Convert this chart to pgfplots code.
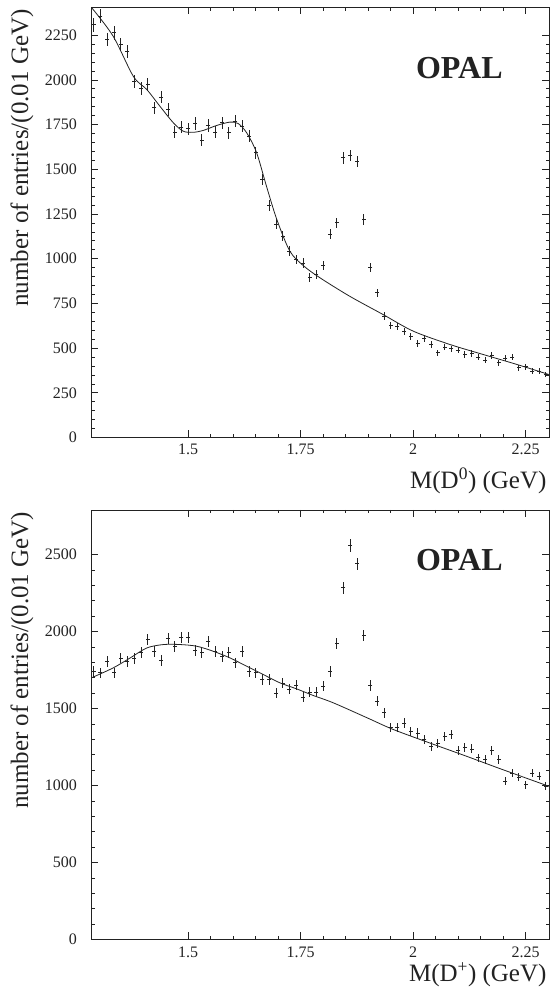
\documentclass[border=0pt]{standalone}
\usepackage{fontspec}
\setmainfont{Liberation Serif}
\usepackage{pgfplots}
\usepackage{pgfplotstable}
\pgfplotsset{compat=1.18}

\definecolor{ink}{HTML}{222222}

% D0 -> K- pi+ candidates, entries per 0.01 GeV (15 MeV bins)
\pgfplotstableread{
x y e
1.290 2309 39.2
1.305 2357 39.6
1.320 2226 38.5
1.335 2263 38.8
1.350 2198 38.3
1.365 2160 37.9
1.380 1993 36.5
1.395 1950 36.1
1.410 1974 36.3
1.425 1844 35.1
1.440 1904 35.6
1.455 1834 35.0
1.470 1709 33.8
1.485 1736 34.0
1.500 1726 33.9
1.515 1756 34.2
1.530 1663 33.3
1.545 1745 34.1
1.560 1707 33.7
1.575 1760 34.3
1.590 1704 33.7
1.605 1769 34.3
1.620 1742 34.1
1.635 1685 33.5
1.650 1593 32.6
1.665 1443 31.0
1.680 1298 29.4
1.695 1194 28.2
1.710 1125 27.4
1.725 1042 26.4
1.740 996 25.8
1.755 976 25.5
1.770 896 24.4
1.785 912 24.7
1.800 962 25.3
1.815 1136 27.5
1.830 1201 28.3
1.845 1564 32.3
1.860 1577 32.4
1.875 1545 32.1
1.890 1219 28.5
1.905 949 25.2
1.920 809 23.2
1.935 678 21.3
1.950 626 20.4
1.965 619 20.3
1.980 591 19.8
1.995 567 19.4
2.010 524 18.7
2.025 554 19.2
2.040 520 18.6
2.055 474 17.8
2.070 505 18.3
2.085 496 18.2
2.100 488 18.0
2.115 464 17.6
2.130 470 17.7
2.145 449 17.3
2.160 431 17.0
2.175 459 17.5
2.190 418 16.7
2.205 444 17.2
2.220 449 17.3
2.235 390 16.1
2.250 396 16.2
2.265 371 15.7
2.280 371 15.7
2.295 352 15.3
}\dzerodata

% fitted function, D0 sample
\pgfplotstableread{
x y
1.285 2405
1.333 2245
1.378 2020
1.408 1946
1.437 1853
1.467 1760
1.489 1713
1.511 1707
1.533 1717
1.563 1745
1.593 1764
1.611 1756
1.630 1704
1.652 1593
1.674 1405
1.697 1219
1.726 1042
1.756 961
1.793 893
1.859 790
1.933 688
2.000 595
2.082 520
2.156 464
2.230 409
2.302 352
}\dzerofit

% D+ -> K- pi+ pi+ candidates, entries per 0.01 GeV (15 MeV bins)
\pgfplotstableread{
x y e
1.290 1742 34.1
1.305 1732 34.0
1.320 1807 34.7
1.335 1732 34.0
1.350 1829 34.9
1.365 1807 34.7
1.380 1823 34.9
1.395 1862 35.2
1.410 1948 36.0
1.425 1872 35.3
1.440 1814 34.8
1.455 1953 36.1
1.470 1905 35.6
1.485 1963 36.2
1.500 1963 36.2
1.515 1879 35.4
1.530 1866 35.3
1.545 1937 35.9
1.560 1872 35.3
1.575 1840 35.0
1.590 1862 35.2
1.605 1797 34.6
1.620 1872 35.3
1.635 1742 34.1
1.650 1732 34.0
1.665 1688 33.5
1.680 1688 33.5
1.695 1600 32.7
1.710 1665 33.3
1.725 1627 32.9
1.740 1652 33.2
1.755 1575 32.4
1.770 1606 32.7
1.785 1606 32.7
1.800 1645 33.1
1.815 1742 34.1
1.830 1922 35.8
1.845 2284 39.0
1.860 2558 41.3
1.875 2441 40.3
1.890 1974 36.3
1.905 1650 33.2
1.920 1548 32.1
1.935 1472 31.3
1.950 1375 30.3
1.965 1375 30.3
1.980 1407 30.6
1.995 1353 30.0
2.010 1342 29.9
2.025 1299 29.4
2.040 1255 28.9
2.055 1271 29.1
2.070 1320 29.7
2.085 1331 29.8
2.100 1227 28.6
2.115 1245 28.8
2.130 1238 28.7
2.145 1180 28.0
2.160 1169 27.9
2.175 1229 28.6
2.190 1169 27.9
2.205 1028 26.2
2.220 1082 26.9
2.235 1054 26.5
2.250 1006 25.9
2.265 1082 26.9
2.280 1060 26.6
2.295 995 25.8
}\dplusdata

% fitted function, D+ sample
\pgfplotstableread{
x y
1.285 1700
1.333 1764
1.371 1829
1.408 1894
1.445 1916
1.482 1916
1.519 1905
1.556 1872
1.593 1829
1.630 1775
1.667 1721
1.704 1667
1.741 1628
1.778 1585
1.822 1538
1.897 1441
1.956 1364
2.045 1268
2.119 1190
2.193 1110
2.302 995
}\dplusfit

\pgfplotsset{
  opal/.style={
    scale only axis,
    width=457.5pt,
    xmin=1.285, xmax=2.302,
    xtick={1.5,1.75,2,2.25},
    xticklabels={1.5,1.75,2,2.25},
    minor x tick num=4,
    tick align=inside,
    major tick length=7pt,
    minor tick length=3.5pt,
    every tick/.style={ink, line width=0.7pt},
    axis line style={ink, line width=0.9pt},
    tick label style={font=\fontsize{16}{16}\selectfont, text=ink, inner sep=0pt},
    yticklabel style={xshift=-14.5pt},
    scaled y ticks=false,
    /pgf/number format/1000 sep={},
    /pgf/number format/assume math mode=true,
    ylabel={number of entries/(0.01 GeV)},
    ylabel style={font=\fontsize{25}{25}\selectfont, text=ink,
      at={(axis description cs:-0.152,0.65)}, anchor=center},
    xlabel style={font=\fontsize{25}{25}\selectfont, text=ink,
      at={(axis description cs:1,0)}, anchor=east, xshift=1pt},
    clip=false,
  },
  datapts/.style={ink, only marks, mark=-, mark size=2pt,
    mark options={line width=0.8pt},
    error bars/.cd, y dir=both, y explicit, error mark=none,
    error bar style={ink, line width=0.8pt}},
  fitline/.style={ink, line width=0.8pt, smooth, no marks},
}

\begin{document}
\begin{tikzpicture}
\path[use as bounding box] (0pt,0pt) rectangle (551pt,997pt);

% upper panel: D0
\begin{axis}[opal,
  at={(91.5pt,559.5pt)}, anchor=south west,
  height=430pt,
  ymin=0, ymax=2405,
  ytick={0,250,500,750,1000,1250,1500,1750,2000,2250},
  minor y tick num=4,
  xticklabel style={yshift=-6.5pt},
  xlabel={M(D\textsuperscript{0}) (GeV)},
  xlabel style={yshift=-43pt},
]
\addplot[fitline] table[x=x, y=y] {\dzerofit};
\addplot[datapts] table[x=x, y=y, y error=e] {\dzerodata};
\node[font=\bfseries\fontsize{32}{32}\selectfont, text=ink]
  at (rel axis cs:0.804,0.86) {OPAL};
\end{axis}

% lower panel: D+
\begin{axis}[opal,
  at={(91.5pt,57.5pt)}, anchor=south west,
  height=429.5pt,
  ymin=0, ymax=2790,
  ytick={0,500,1000,1500,2000,2500},
  minor y tick num=4,
  xticklabel style={yshift=-7pt},
  xlabel={M(D\textsuperscript{+}) (GeV)},
  xlabel style={yshift=-35pt},
]
\addplot[fitline] table[x=x, y=y] {\dplusfit};
\addplot[datapts] table[x=x, y=y, y error=e] {\dplusdata};
\node[font=\bfseries\fontsize{32}{32}\selectfont, text=ink]
  at (rel axis cs:0.804,0.883) {OPAL};
\end{axis}
\end{tikzpicture}
\end{document}
